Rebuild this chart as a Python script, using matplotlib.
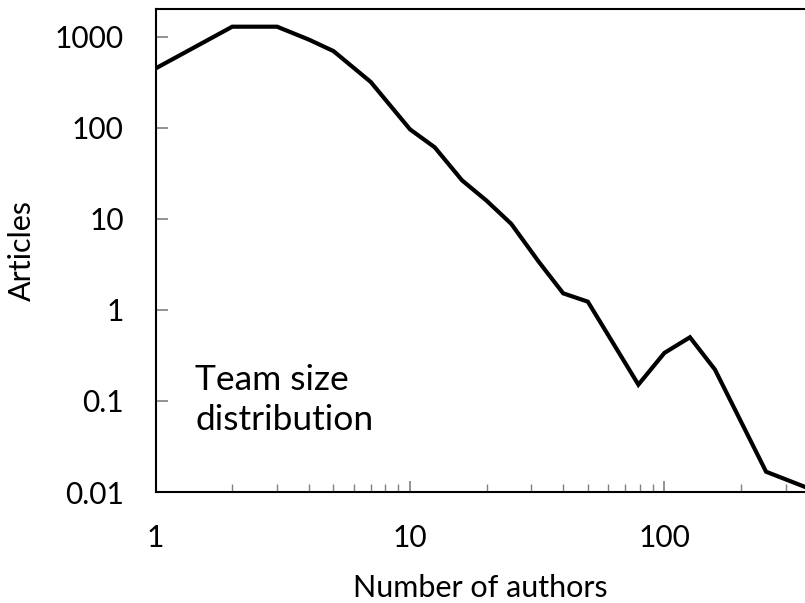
import numpy as np
import matplotlib
matplotlib.use('Agg')
import matplotlib.pyplot as plt
from matplotlib.ticker import LogLocator, FixedLocator, NullFormatter

plt.rcParams['font.family'] = ['Lato', 'DejaVu Sans']

# team size distribution
authors = [1, 2, 3, 4, 5, 7, 10, 12.5, 16, 20, 25, 32, 40, 50, 79, 100, 126, 158, 251, 398]
articles = [449, 1288, 1288, 930, 695, 319, 96, 61, 26.5, 15.8, 8.8, 3.4, 1.52, 1.23,
            0.151, 0.337, 0.50, 0.221, 0.0167, 0.0101]

x_ticks = [1, 10, 100]
x_tick_labels = ['1', '10', '100']
y_ticks = [0.01, 0.1, 1, 10, 100, 1000]
y_tick_labels = ['0.01', '0.1', '1', '10', '100', '1000']

fig = plt.figure(figsize=(8.05, 6.03), dpi=100)
# plot area is cut at the right edge of the picture
ax = fig.add_axes([155.7 / 805, 111 / 603, 649.3 / 805, 482.7 / 603])

ax.plot(authors, articles, color='black', lw=3, solid_joinstyle='miter')
ax.set_xscale('log')
ax.set_yscale('log')
ax.set_xlim(1, 357)
ax.set_ylim(0.01, 2000)

ax.xaxis.set_major_locator(FixedLocator(x_ticks))
ax.set_xticklabels(x_tick_labels)
ax.xaxis.set_minor_locator(LogLocator(base=10, subs=np.arange(2, 10)))
ax.xaxis.set_minor_formatter(NullFormatter())
ax.yaxis.set_major_locator(FixedLocator(y_ticks))
ax.set_yticklabels(y_tick_labels)
ax.yaxis.set_minor_locator(FixedLocator([]))

ax.tick_params(axis='x', which='major', direction='in', length=8, width=1.2,
               color='#808080', pad=23, labelsize=21.5)
ax.tick_params(axis='x', which='minor', direction='in', length=5.8, width=1.0,
               color='#808080')
ax.tick_params(axis='y', which='major', direction='in', length=8.6, width=1.2,
               color='#808080', pad=23, labelsize=21.5)

for s in ax.spines.values():
    s.set_linewidth(1.5)
    s.set_color('black')
ax.spines['right'].set_visible(False)

ax.set_xlabel('Number of authors', fontsize=22, labelpad=16)
ax.set_ylabel('Articles', fontsize=22)
ax.yaxis.set_label_coords(-0.184, 0.5)

fig.text(195 / 805, 1 - 364 / 603, 'Team size\ndistribution', fontsize=25.5,
         ha='left', va='top', linespacing=1.3)

fig.savefig('out.png', dpi=100)
